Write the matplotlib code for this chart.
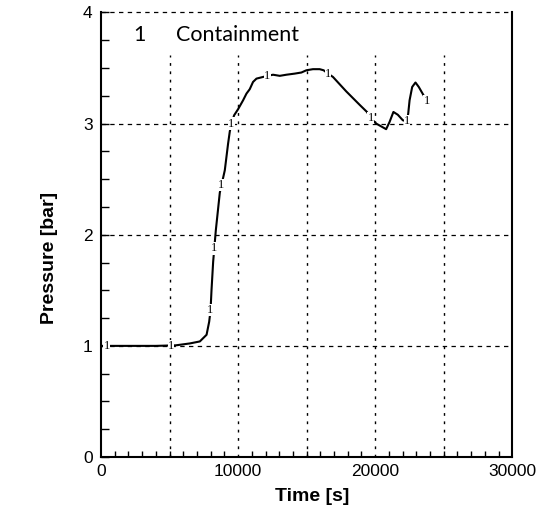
import matplotlib.pyplot as plt

plt.rcParams['font.family'] = ['Liberation Sans', 'DejaVu Sans']

# containment pressure history
time_s = [100, 2000, 4000, 5460, 6480, 7210, 7700, 7890, 7990, 8060, 8180, 8375,
          8667, 9030, 9270, 9395, 9520, 9710, 10000, 10365, 10610, 10850, 11090,
          11340, 11820, 12140, 12550, 13040, 13520, 14130, 14620, 14980, 15460,
          15950, 16240, 16560, 16920, 17890, 18860, 19400, 19665, 20080, 20800,
          21050, 21330, 21650, 22020, 22310, 22410, 22510, 22700, 22940, 23180,
          23530, 23760]
pressure_bar = [1.0, 1.0, 1.0, 1.005, 1.022, 1.04, 1.10, 1.217, 1.32, 1.50, 1.756, 2.04,
                2.38, 2.58, 2.82, 2.93, 3.0, 3.075, 3.13, 3.21, 3.27, 3.31, 3.375,
                3.405, 3.42, 3.43, 3.44, 3.43, 3.44, 3.45, 3.46, 3.48, 3.49,
                3.49, 3.48, 3.45, 3.42, 3.29, 3.17, 3.105, 3.05, 3.0, 2.95,
                3.015, 3.105, 3.08, 3.03, 3.02, 3.09, 3.21, 3.33, 3.37, 3.33,
                3.255, 3.20]

# curve-id markers along the line
mark_t = [415, 5100, 7990, 8230, 8790, 9520, 12140, 16560, 19665, 22310, 23760]
mark_p = [1.0, 1.0, 1.32, 1.877, 2.45, 3.0, 3.43, 3.45, 3.05, 3.02, 3.20]

legend_id = "1"
legend_name = "Containment"

fig, ax = plt.subplots(figsize=(5.52, 5.12), dpi=100)
fig.subplots_adjust(left=0.183, right=0.928, bottom=0.1074, top=0.9756)

ax.plot(time_s, pressure_bar, color='black', lw=1.5, zorder=3)
for t, p in zip(mark_t, mark_p):
    ax.text(t, p, "1", fontsize=9, family='Liberation Serif', ha='center', va='center',
            zorder=4, bbox=dict(facecolor='white', edgecolor='none', pad=0.1))

ax.set_xlim(0, 30000)
ax.set_ylim(0, 4)
ax.set_xticks([0, 10000, 20000, 30000])
ax.set_xticks(range(0, 30001, 1000), minor=True)
ax.set_yticks([0, 1, 2, 3, 4])
ax.set_yticks([i * 0.25 for i in range(17)], minor=True)

for x in range(5000, 30000, 5000):
    ax.axvline(x, ymax=3.615 / 4, color='black', lw=1.0, dashes=(2, 4), zorder=1)
for y in [1, 2, 3, 4]:
    ax.axhline(y, color='black', lw=0.9, dashes=(3.5, 3.5), zorder=1, clip_on=False)

ax.spines['top'].set_visible(False)
for s in ['left', 'bottom', 'right']:
    ax.spines[s].set_linewidth(1.5)

ax.tick_params(axis='both', which='both', direction='in', top=False, right=False,
               labelsize=12.5, width=1)
ax.tick_params(axis='x', which='major', length=0, pad=5)
ax.tick_params(axis='x', which='minor', length=4)
ax.tick_params(axis='y', which='both', length=6, pad=6)

ax.set_xlabel("Time [s]", fontsize=14, fontweight='bold')
ax.xaxis.set_label_coords(0.513, -0.07)
ax.set_ylabel("Pressure [bar]", fontsize=14, fontweight='bold')
ax.yaxis.set_label_coords(-0.105, 0.448)

ax.text(2770, 3.795, legend_id, fontsize=15.5, family='Lato', ha='center', va='center')
ax.text(5460, 3.795, legend_name, fontsize=15.5, family='Lato', ha='left', va='center')

plt.savefig('out.png')
